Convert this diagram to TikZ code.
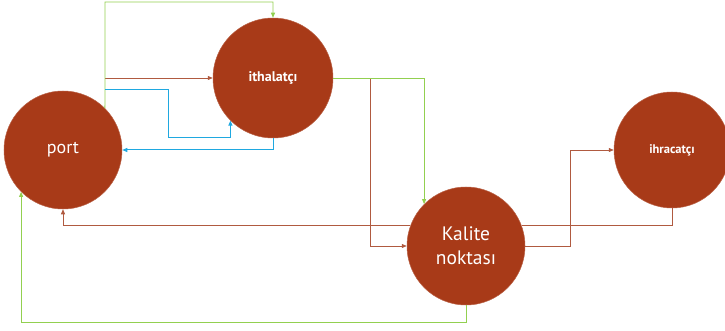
\documentclass[tikz,border=0pt]{standalone}
\usepackage{fontspec}
\setmainfont{PT Sans}
\usepackage{xcolor}
\usetikzlibrary{positioning,arrows.meta}
\definecolor{rust}{HTML}{A83A18}
\definecolor{rustline}{HTML}{B05A40}
\definecolor{limeline}{HTML}{92D050}
\definecolor{skyline}{HTML}{1FA8E0}
\tikzset{
    actor/.style={circle, fill=rust, draw=rust!80!white, line width=0.5pt, text=white, inner sep=0pt},
    brownflow/.style={rustline, line width=0.7pt, -{Triangle[length=5pt,width=4pt]}},
    greenflow/.style={limeline, line width=0.8pt, -{Triangle[length=5pt,width=4pt]}},
    blueflow/.style={skyline, line width=1pt, -{Triangle[length=5pt,width=4pt]}}
}

\begin{document}
\begin{tikzpicture}[x=1pt, y=-1pt]
        \useasboundingbox (0,0) rectangle (725,331);
        \clip (0,0) rectangle (725,331);

        \node[actor, minimum size=118pt, font=\fontsize{18}{20}\selectfont] (port) at (63, 150) {port};
        \node[actor, minimum size=120pt, font=\fontsize{14}{16}\selectfont\bfseries] (ithal) at (273, 78) {ithalatçı};
        \node[actor, minimum size=118pt, font=\fontsize{19.5}{24}\selectfont, align=center] (kal) at (466, 246) {Kalite\\noktası};
        \node[actor, minimum size=116pt, font=\fontsize{12.5}{14}\selectfont\bfseries] (ihr) at (672, 150) {ihracatçı};

        % branch points on the lines
        \coordinate (top) at (105, 2);
        \coordinate (b1) at (105, 78);
        \coordinate (b2) at (370, 78);
        \coordinate (c1) at (105, 90);
        \coordinate (c2) at (168, 138);
        \coordinate (bot) at (466, 322);

        % brown arrows
        \draw[brownflow] (b1) -- (ithal.west);
        \draw[brownflow] (ithal.east) -- (b2) |- (kal.west);
        \draw[brownflow] (kal.160) -| (port.south);
        \draw[brownflow] (kal.east) -- ++(45,0) |- (ihr.west);
        \draw[rustline, line width=0.7pt] (ihr.south) |- (kal.20);

        % green arrows
        \draw[greenflow] (port.45) -- (top) -| (ithal.north);
        \draw[greenflow] (ithal.east) -| (kal.135);
        \draw[greenflow] (kal.south) -- (bot) -| (port.225);

        % blue arrows
        \draw[blueflow] (c1) -| (c2) -| (ithal.225);
        \draw[blueflow] (ithal.south) |- (port.east);
\end{tikzpicture}
\end{document}
